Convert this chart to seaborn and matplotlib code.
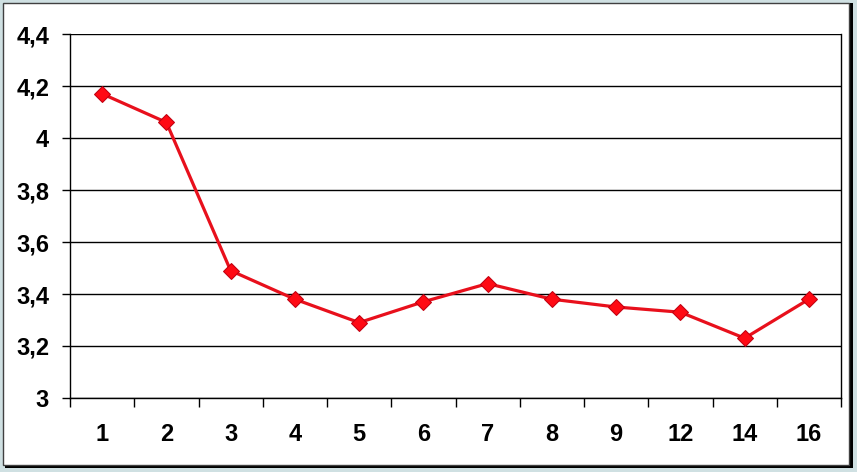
import numpy as np
import matplotlib
matplotlib.use("Agg")
import matplotlib.pyplot as plt
import seaborn as sns
from matplotlib.patches import Rectangle
from matplotlib.ticker import FixedLocator, FuncFormatter

# data
categories = ["1", "2", "3", "4", "5", "6", "7", "8", "9", "12", "14", "16"]
values = [4.17, 4.06, 3.49, 3.38, 3.29, 3.37, 3.44, 3.38, 3.35, 3.33, 3.23, 3.38]
y_ticks = [3.0, 3.2, 3.4, 3.6, 3.8, 4.0, 4.2, 4.4]

sns.set_theme(style="white")
plt.rcParams["font.family"] = ["Liberation Sans", "DejaVu Sans"]

fig = plt.figure(figsize=(8.57, 4.72), dpi=100)
fig.patch.set_facecolor("#cfe0e2")

# white panel with a dark shadow frame on right / bottom
fig.patches.append(Rectangle((5 / 857, 4 / 472), 848 / 857, 465 / 472,
                             transform=fig.transFigure, facecolor="black",
                             edgecolor="none", zorder=-2))
fig.patches.append(Rectangle((3 / 857, 7 / 472), 846 / 857, 462 / 472,
                             transform=fig.transFigure, facecolor="white",
                             edgecolor="#404040", linewidth=1.0, zorder=-1))

ax = fig.add_axes([70 / 857, 74 / 472, 771 / 857, 364 / 472])
ax.set_zorder(5)
ax.set_facecolor("white")

pos = np.arange(len(categories))
sns.lineplot(x=pos, y=values, ax=ax, color="#e8101c", linewidth=2.3,
             marker="D", markersize=8, markeredgecolor="#c00010",
             markerfacecolor="#ff0a14", zorder=3)

ax.set_xlim(-0.5, len(categories) - 0.5)
ax.set_ylim(3.0, 4.4)

# x axis: labels at category centres, tick marks between categories
ax.xaxis.set_major_locator(FixedLocator(pos))
ax.set_xticklabels(categories)
ax.xaxis.set_minor_locator(FixedLocator(np.arange(-0.5, len(categories), 1.0)))
ax.tick_params(axis="x", which="major", length=0, pad=18, labelsize=17)
ax.tick_params(axis="x", which="minor", length=6.5, width=1, color="black",
               direction="out", bottom=True)

ax.set_yticks(y_ticks)
ax.yaxis.set_major_formatter(FuncFormatter(lambda v, p: f"{v:g}".replace(".", ",")))
ax.tick_params(axis="y", length=6, width=1, color="black", direction="out",
               left=True, pad=9, labelsize=17)
for lab in ax.get_xticklabels() + ax.get_yticklabels():
    lab.set_fontweight("bold")
    lab.set_color("black")

ax.grid(axis="y", color="black", linewidth=1.0)
ax.set_axisbelow(True)
for side in ["left", "right", "bottom"]:
    ax.spines[side].set_visible(True)
    ax.spines[side].set_color("black")
    ax.spines[side].set_linewidth(1.0)
ax.spines["top"].set_visible(False)

ax.set_xlabel("")
ax.set_ylabel("")

fig.savefig("out.png", dpi=100, facecolor=fig.get_facecolor())
